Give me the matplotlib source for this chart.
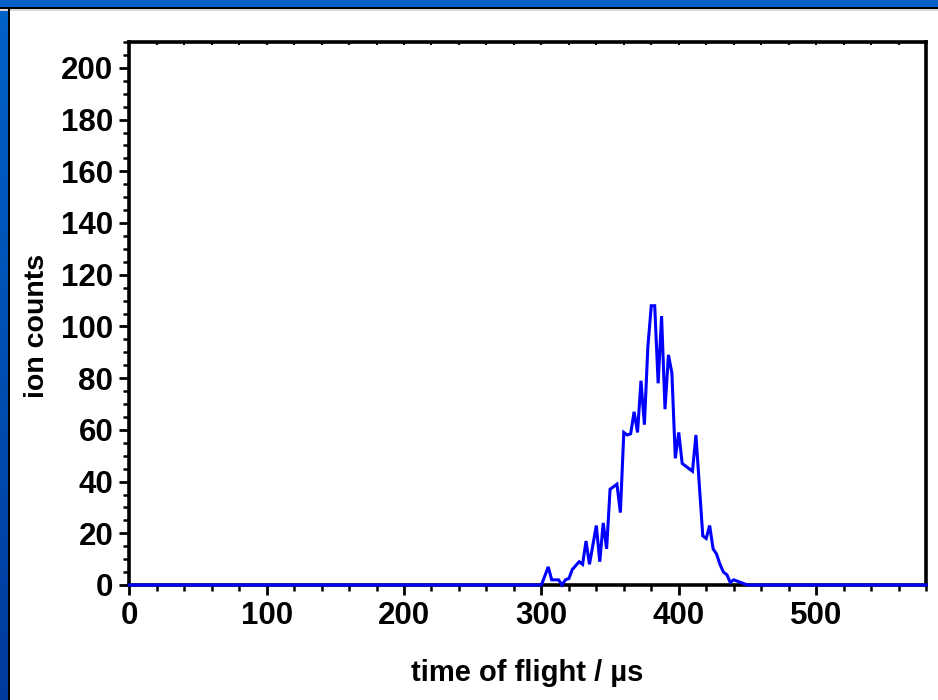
import numpy as np
import matplotlib.pyplot as plt
from matplotlib.patches import Rectangle
from matplotlib.colors import LinearSegmentedColormap
from matplotlib.ticker import MultipleLocator

plt.rcParams['font.family'] = ['Liberation Sans', 'DejaVu Sans']
plt.rcParams['font.weight'] = 'bold'

# time of flight (us) and ion counts
tof = [0, 300, 305, 307.5, 312.5, 315, 317.5, 320, 322.5, 327.5, 330, 332.5, 335,
       340, 342.5, 345, 347.5, 350, 355, 357.5, 360, 362.5, 365, 367.5, 370,
       372.5, 375, 377.5, 380, 382.5, 385, 387.5, 390, 392.5, 395, 397.5, 400,
       402.5, 405, 407.5, 410, 412.5, 417.5, 420, 422.5, 425, 427.5, 430, 432.5,
       435, 437.5, 440, 442.5, 445, 450, 580]
counts = [0, 0, 7, 2, 2, 0, 2, 2.5, 6, 9, 8, 17, 8,
          23, 9, 24, 14, 37, 39, 28, 59, 58, 58.5, 67, 59,
          79, 62, 92, 108, 108, 78, 104, 68, 89, 82, 49, 59,
          47, 46, 45, 44, 58, 19, 18, 23, 14, 12, 8, 5,
          4, 1, 2, 1.5, 1, 0, 0]

fig = plt.figure(figsize=(9.38, 7.0), dpi=100)
fig.patch.set_facecolor('white')

# blue frame along the top and left edges
W, H = 938.0, 700.0
fig.patches.append(Rectangle((0, 1 - 7 / H), 1, 7 / H, transform=fig.transFigure,
                             facecolor='#0062c8', edgecolor='none', zorder=0))
fig.patches.append(Rectangle((0, 1 - 9 / H), 1, 2 / H, transform=fig.transFigure,
                             facecolor='black', edgecolor='none', zorder=1))
fig.patches.append(Rectangle((0, 1 - 10.5 / H), 1, 1.5 / H, transform=fig.transFigure,
                             facecolor='#d8d8d8', edgecolor='none', zorder=1))
side = fig.add_axes([0, 0, 8 / W, 1 - 7 / H])
grad = np.linspace(0, 1, 256).reshape(-1, 1)
side.imshow(grad, aspect='auto', extent=[0, 1, 0, 1],
            cmap=LinearSegmentedColormap.from_list('frame', ['#0062c8', '#003c9e']))
side.axis('off')
fig.patches.append(Rectangle((8 / W, 0), 2 / W, 1 - 7 / H, transform=fig.transFigure,
                             facecolor='black', edgecolor='none', zorder=1))

ax = fig.add_axes([129.3 / W, 115 / H, (926 - 129.3) / W, (585 - 42) / H])
ax.plot(tof, counts, color='#0000ff', lw=2.2, clip_on=False, zorder=5,
        solid_joinstyle='miter')

ax.set_xlim(0, 580)
ax.set_ylim(0, 210)
ax.xaxis.set_major_locator(MultipleLocator(100))
ax.xaxis.set_minor_locator(MultipleLocator(20))
ax.yaxis.set_major_locator(MultipleLocator(20))
ax.yaxis.set_minor_locator(MultipleLocator(5))

for s in ax.spines.values():
    s.set_linewidth(2.6)
ax.tick_params(which='major', direction='out', length=7.5, width=2.0,
               labelsize=22.5, pad=4)
ax.tick_params(which='minor', direction='out', length=4, width=1.8)

top = ax.secondary_xaxis('top')
top.xaxis.set_major_locator(MultipleLocator(20))
top.tick_params(direction='in', length=2.5, width=1.5, labeltop=False)

ax.set_xlabel('time of flight / µs', fontsize=21, fontweight='bold', labelpad=20)
ax.set_ylabel('ion counts', fontsize=20.5, fontweight='bold')
ax.yaxis.set_label_coords(-0.1, 0.477)

fig.savefig('out.png', dpi=100)
